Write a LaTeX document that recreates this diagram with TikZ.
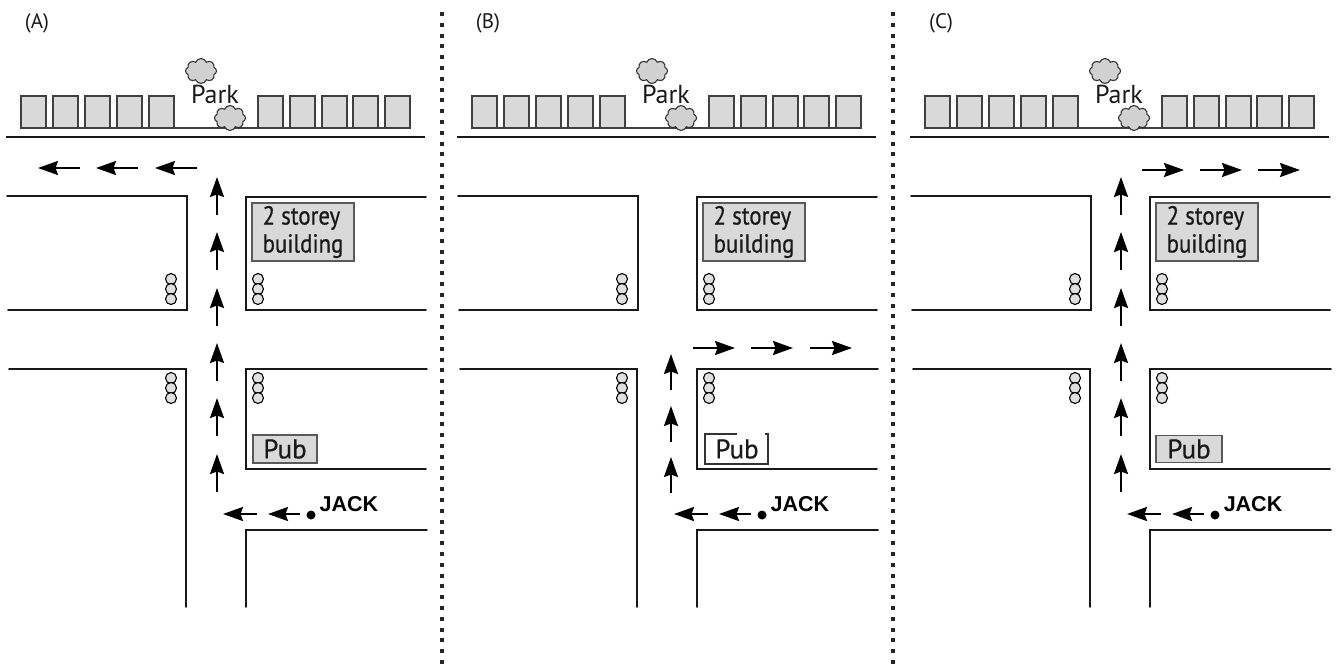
\documentclass[tikz,border=0pt]{standalone}
\usepackage{fontspec}
\setmainfont{PT Sans}
\newfontfamily\narrowfont[FakeStretch=0.88,FakeBold=0.6]{PT Sans}
\newfontfamily\pubfont[FakeBold=0.6]{PT Sans}
\newfontfamily\jackfont{Liberation Sans}
\usetikzlibrary{arrows.meta,shapes.symbols}
\definecolor{housegrey}{gray}{0.85}
\tikzset{
	road/.style={line width=1.9pt,line cap=round,line join=miter,black!90},
	kerb/.style={line width=2.4pt,black!90},
	divider/.style={line width=4pt,dash pattern=on 4pt off 6.8pt,black!85},
	house/.style={draw=black!75,line width=1.2pt,fill=housegrey},
	shop/.style={draw=black!65,line width=1.2pt,fill=housegrey},
	lamp/.style={draw=black,line width=1.1pt,fill=black!12},
	route/.style={line width=2.2pt,black,-{Stealth[length=20pt,width=14pt,inset=2.5pt]}},
	bush/.style={cloud,cloud puffs=8,cloud puff arc=140,aspect=1.3,draw=black!80,line width=1.1pt,fill=black!18,minimum width=31pt,minimum height=25pt,inner sep=0pt},
	label/.style={font=\fontsize{26}{30}\selectfont,align=left,inner sep=0pt,black!90},
}
\begin{document}
\begin{tikzpicture}[x=1pt,y=-1pt]
		\useasboundingbox (0,0) rectangle (1340,664);

% the map, once for each panel
\foreach \dx/\panel in {0/A,451/B,904/C}{
	\begin{scope}[xshift=\dx pt]
		\node[label,font=\fontsize{21}{24}\selectfont] (title\panel) at (37,23) {(\panel)};

		\draw[kerb] (6,137) -- (425,137);
		\draw[line width=1.2pt,black!75] (21,128) -- (409,128);
		\foreach \hx in {21,53,85,117,149,258,290,322,353,385}
			\draw[house] (\hx,96) rectangle +(25,32);

		\node[bush] (bushTop\panel) at (201,71) {};
		\node[bush] (bushLow\panel) at (230,118) {};
		\node[label] (park\panel) at (215,94) {Park};

		\draw[road] (7,196) -- (187,196) -- (187,310) -- (8,310);
		\draw[road] (426,197) -- (246,197) -- (246,310) -- (426,310);
		\draw[road] (9,369) -- (186,369) -- (186,607);
		\draw[road] (427,369) -- (246,369) -- (246,469) -- (426,469);
		\draw[road] (427,530) -- (246,530) -- (246,607);

		\foreach \ly in {279,289,299,378,388,398}{
			\draw[lamp] (171,\ly) circle (5.5);
			\draw[lamp] (258,\ly) circle (5.5);
		}

		\node[shop,minimum width=102pt,minimum height=58pt,inner sep=0pt] (storey\panel) at (303,232) {};
		\node[label,font=\narrowfont\fontsize{26}{28}\selectfont] (storeyText\panel) at (storey\panel) {2 storey\\building};

		\fill[black] (311,515) circle (4.5);
		\node[font=\jackfont\bfseries\fontsize{21.5}{24}\selectfont,inner sep=0pt] (jack\panel) at (349,504) {JACK};
		\draw[route] (257,514) -- (223,514);
		\draw[route] (300,514) -- (268,514);
	\end{scope}
}

% the routes
\foreach \ax in {80,138,197}
	\draw[route] (\ax,168) -- +(-42,0);
\foreach \ay in {215,270,326,381,436,492}
	\draw[route] (217,\ay) -- +(0,-38);

\foreach \ay in {390,442,493}
	\draw[route] (671,\ay) -- +(0,-36);
\foreach \ax in {693,751,810}
	\draw[route] (\ax,348) -- +(42,0);

\foreach \ay in {215,270,326,381,436,492}
	\draw[route] (1121,\ay) -- +(0,-38);
\foreach \ax in {1142,1200,1258}
	\draw[route] (\ax,170) -- +(42,0);

% the pub
\node[shop,minimum width=64pt,minimum height=28pt,inner sep=0pt] (pubA) at (285,449) {};
\node[label,font=\pubfont\fontsize{27}{30}\selectfont] (pubTextA) at (pubA) {Pub};
\draw[line width=1.2pt,black!80] (737,434) -- (705,434) -- (705,464) -- (768,464) -- (768,458);
\draw[line width=1.2pt,black!80] (765,434) -- (768,434) -- (768,458);
\node[label,font=\pubfont\fontsize{27}{30}\selectfont] (pubTextB) at (737,449) {Pub};
\node[shop,minimum width=66pt,minimum height=27pt,inner sep=0pt] (pubC) at (1189,449) {};
\node[label,font=\pubfont\fontsize{27}{30}\selectfont] (pubTextC) at (pubC) {Pub};

\draw[divider] (442,12) -- (442,664);
\draw[divider] (893,12) -- (893,664);
		\end{tikzpicture}
\end{document}
